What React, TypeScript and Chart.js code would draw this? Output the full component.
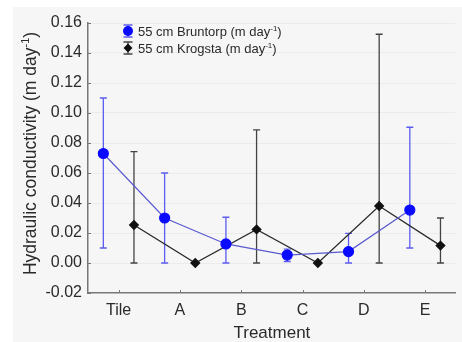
import React, { useEffect, useRef } from 'react';
import { Chart, registerables } from 'chart.js';

Chart.register(...registerables);

const categories = ['Tile', 'A', 'B', 'C', 'D', 'E'];

const bruntorpLabel = '55 cm Bruntorp (m day';
const krogstaLabel = '55 cm Krogsta (m day';

const bruntorpMean = [0.073, 0.030, 0.0127, 0.0053, 0.0076, 0.0353];
const bruntorpLow = [0.010, 0.000, 0.000, 0.001, 0.000, 0.010];
const bruntorpHigh = [0.110, 0.060, 0.0305, 0.0093, 0.0198, 0.0905];

const krogstaMean = [0.0253, 0.000, 0.0224, 0.000, 0.038, 0.0116];
const krogstaLow = [0.000, 0.000, 0.000, 0.000, 0.000, 0.000];
const krogstaHigh = [0.0742, 0.000, 0.0887, 0.000, 0.1525, 0.030];

const yMin = -0.02;
const yMax = 0.16;
const yStep = 0.02;

const yTitle = 'Hydraulic conductivity (m day';
const xTitle = 'Treatment';

const FONT = '"Liberation Sans", Arial, sans-serif';
const BLUE_MARK = '#0a0aff';
const BLUE_LINE = '#5a5ad0';
const BLUE_ERR = '#5c5cf0';
const BLACK = '#111111';
const BLACK_LINE = '#2a2a2a';
const BLACK_ERR = '#444444';
const AXIS = '#777777';
const TEXT = '#2a2a2a';

function drawSupText(ctx: CanvasRenderingContext2D, x: number, y: number, main: string, sup: string, tail: string, size: number) {
  ctx.font = `${size}px ${FONT}`;
  ctx.textAlign = 'left';
  ctx.textBaseline = 'alphabetic';
  ctx.fillText(main, x, y);
  let cx = x + ctx.measureText(main).width;
  const s = Math.round(size * 0.62);
  ctx.font = `${s}px ${FONT}`;
  ctx.fillText(sup, cx, y - size * 0.38);
  cx += ctx.measureText(sup).width;
  ctx.font = `${size}px ${FONT}`;
  ctx.fillText(tail, cx, y);
}

function supWidth(ctx: CanvasRenderingContext2D, main: string, sup: string, tail: string, size: number) {
  ctx.font = `${size}px ${FONT}`;
  let w = ctx.measureText(main).width + ctx.measureText(tail).width;
  ctx.font = `${Math.round(size * 0.62)}px ${FONT}`;
  w += ctx.measureText(sup).width;
  return w;
}

function drawErr(ctx: CanvasRenderingContext2D, x: number, yTop: number, yBot: number, color: string, cap: number) {
  ctx.strokeStyle = color;
  ctx.lineWidth = 1.3;
  ctx.beginPath();
  ctx.moveTo(x, yTop);
  ctx.lineTo(x, yBot);
  ctx.moveTo(x - cap, yTop);
  ctx.lineTo(x + cap, yTop);
  ctx.moveTo(x - cap, yBot);
  ctx.lineTo(x + cap, yBot);
  ctx.stroke();
}

const customPlugin = {
  id: 'custom',
  beforeDraw(chart: any) {
    const ctx = chart.ctx;
    ctx.save();
    ctx.fillStyle = '#f6f6f6';
    ctx.fillRect(13, 7, chart.width - 13, chart.height - 7);
    ctx.restore();
  },
  beforeDatasetsDraw(chart: any) {
    const ctx = chart.ctx;
    const xs = chart.scales.x;
    const ys = chart.scales.y;
    ctx.save();
    categories.forEach((_, i) => {
      if (bruntorpHigh[i] > bruntorpLow[i]) {
        drawErr(ctx, xs.getPixelForValue(i - 0.25), ys.getPixelForValue(bruntorpHigh[i]), ys.getPixelForValue(bruntorpLow[i]), BLUE_ERR, 3.5);
      }
      if (krogstaHigh[i] > krogstaLow[i]) {
        drawErr(ctx, xs.getPixelForValue(i + 0.25), ys.getPixelForValue(krogstaHigh[i]), ys.getPixelForValue(krogstaLow[i]), BLACK_ERR, 3.5);
      }
    });
    ctx.restore();
  },
  afterDraw(chart: any) {
    const ctx = chart.ctx;
    const xs = chart.scales.x;
    const ys = chart.scales.y;
    const area = chart.chartArea;
    ctx.save();
    // inward ticks
    ctx.strokeStyle = AXIS;
    ctx.lineWidth = 1;
    ctx.beginPath();
    ys.ticks.forEach((t: any) => {
      const y = Math.round(ys.getPixelForValue(t.value)) + 0.5;
      ctx.moveTo(area.left, y);
      ctx.lineTo(area.left + 3, y);
    });
    categories.forEach((_, i) => {
      const x = Math.round(xs.getPixelForValue(i)) + 0.5;
      ctx.moveTo(x, area.bottom);
      ctx.lineTo(x, area.bottom - 3);
    });
    ctx.stroke();

    // legend
    const lx = 128;
    const rows = [
      { y: 31, label: bruntorpLabel, err: BLUE_ERR, kind: 'circle' },
      { y: 48, label: krogstaLabel, err: BLACK_ERR, kind: 'diamond' },
    ];
    rows.forEach((r) => {
      drawErr(ctx, lx, r.y - 6, r.y + 6, r.err, 4.5);
      if (r.kind === 'circle') {
        ctx.fillStyle = BLUE_MARK;
        ctx.beginPath();
        ctx.arc(lx, r.y, 5, 0, Math.PI * 2);
        ctx.fill();
      } else {
        ctx.fillStyle = BLACK;
        ctx.beginPath();
        ctx.moveTo(lx, r.y - 4.5);
        ctx.lineTo(lx + 4.5, r.y);
        ctx.lineTo(lx, r.y + 4.5);
        ctx.lineTo(lx - 4.5, r.y);
        ctx.closePath();
        ctx.fill();
      }
      ctx.fillStyle = TEXT;
      drawSupText(ctx, 138, r.y + 4.5, r.label, '-1', ')', 13);
    });

    // y title
    ctx.fillStyle = TEXT;
    ctx.translate(30, 153.5);
    ctx.rotate(-Math.PI / 2);
    const w = supWidth(ctx, yTitle, '-1', ')', 17.5);
    drawSupText(ctx, -w / 2, 6, yTitle, '-1', ')', 17.5);
    ctx.setTransform(1, 0, 0, 1, 0, 0);

    // x title
    ctx.font = `17px ${FONT}`;
    ctx.textAlign = 'center';
    ctx.textBaseline = 'alphabetic';
    ctx.fillText(xTitle, (area.left + area.right) / 2, 338);
    ctx.restore();
  },
};

export default function App() {
  const ref = useRef<HTMLCanvasElement>(null);
  useEffect(() => {
    if (!ref.current) return;
    const chart = new Chart(ref.current, {
      type: 'line',
      data: {
        datasets: [
          {
            label: bruntorpLabel,
            data: bruntorpMean.map((v, i) => ({ x: i - 0.25, y: v })),
            borderColor: BLUE_LINE,
            borderWidth: 1.2,
            backgroundColor: BLUE_MARK,
            pointBackgroundColor: BLUE_MARK,
            pointBorderColor: BLUE_MARK,
            pointRadius: 5,
            pointStyle: 'circle',
            tension: 0,
          },
          {
            label: krogstaLabel,
            data: krogstaMean.map((v, i) => ({ x: i + 0.25, y: v })),
            borderColor: BLACK_LINE,
            borderWidth: 1.3,
            backgroundColor: BLACK,
            pointBackgroundColor: BLACK,
            pointBorderColor: BLACK,
            pointRadius: 4.3,
            pointStyle: 'rectRot',
            tension: 0,
          },
        ],
      },
      options: {
        responsive: false,
        animation: false,
        layout: { padding: { left: 0, top: 23, right: 2, bottom: 0 } },
        plugins: { legend: { display: false }, tooltip: { enabled: false } },
        scales: {
          x: {
            type: 'linear',
            min: -0.5,
            max: 5.5,
            afterBuildTicks: (scale: any) => {
              scale.ticks = categories.map((_, i) => ({ value: i }));
            },
            afterFit: (scale: any) => {
              scale.height = 49;
            },
            ticks: {
              autoSkip: false,
              maxRotation: 0,
              padding: 8,
              color: TEXT,
              font: { family: FONT, size: 16 },
              callback: (v: any) => categories[Math.round(Number(v))] ?? '',
            },
            grid: { display: false, drawTicks: false },
            border: { display: true, color: AXIS, width: 1.5 },
          },
          y: {
            min: yMin,
            max: yMax,
            afterFit: (scale: any) => {
              scale.width = 88;
            },
            ticks: {
              stepSize: yStep,
              padding: 6,
              color: TEXT,
              font: { family: FONT, size: 16 },
              callback: (v: any) => Number(v).toFixed(2),
            },
            grid: {
              drawTicks: false,
              color: (c: any) => (c.tick && c.tick.value <= yMin + 1e-9 ? 'rgba(0,0,0,0)' : '#ebebeb'),
              lineWidth: 1,
            },
            border: { display: true, color: AXIS, width: 1.5 },
          },
        },
      },
      plugins: [customPlugin],
    });
    return () => chart.destroy();
  }, []);
  return (
    <div style={{ position: 'absolute', left: 0, top: 0, width: 462, height: 342 }}>
      <canvas ref={ref} width={462} height={342} style={{ width: 462, height: 342, display: 'block' }} />
    </div>
  );
}
